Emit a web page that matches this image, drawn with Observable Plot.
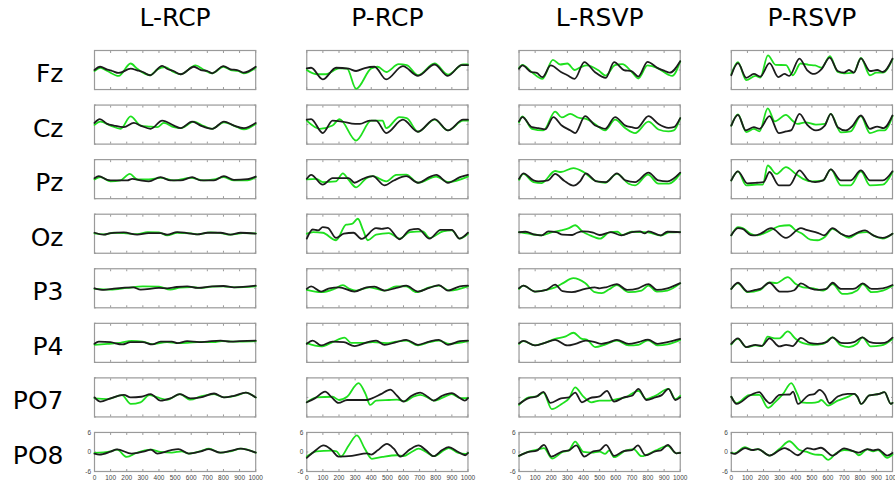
<!DOCTYPE html>
<html><head><meta charset="utf-8">
<script src="https://cdn.jsdelivr.net/npm/d3@7"></script>
<script src="https://cdn.jsdelivr.net/npm/@observablehq/plot@0.6"></script>
<style>body{margin:0;background:#fff;}</style>
</head><body><div id="chart"></div>
<script>
const conditions = ["L-RCP","P-RCP","L-RSVP","P-RSVP"];
const channels = ["Fz","Cz","Pz","Oz","P3","P4","PO7","PO8"];
const xTicks = [0,100,200,300,400,500,600,700,800,900,1000];
const yTicks = [-6,0,6];

// ---- L-RCP ----
const LRCP_Fz_k = [[0,0],[35,1.0],[80,0.1],[110,-0.3],[150,-0.9],[225,0.4],[265,-0.1],[300,-0.6],[345,-1.6],[420,1.3],[450,0.4],[490,-0.3],[535,-1.3],[617,1.0],[660,0],[700,-0.3],[730,-1.0],[800,1.2],[845,0.2],[885,0],[925,-0.8],[1000,1.0]];
const LRCP_Fz_g = [[0,-0.3],[37,0.7],[80,-0.3],[150,-1.8],[224,2.0],[265,0.4],[300,-0.8],[345,-1.6],[390,0.2],[440,0.9],[490,-0.6],[535,-1.3],[627,1.4],[680,0],[730,-1.0],[800,1.0],[845,0],[890,-0.3],[925,-1.0],[1000,0.7]];
const LRCP_Cz_k = [[0,0.5],[33,1.7],[79,0.2],[120,-0.3],[182,-0.8],[244,0.5],[286,-0.3],[348,-1.3],[420,1.2],[493,-0.3],[534,-1.1],[606,0.9],[658,-0.3],[730,-1.3],[803,0.9],[865,-0.3],[927,-1.1],[1000,0.5]];
const LRCP_Cz_g = [[0,-0.1],[37,0.9],[99,-0.3],[162,-1.3],[224,2.5],[286,-0.3],[337,-0.6],[389,-0.8],[430,0.5],[493,-0.8],[534,-1.1],[617,0.9],[679,-0.5],[730,-1.3],[803,0.7],[886,-0.8],[927,-1.5],[1000,0.2]];
const LRCP_Pz_k = [[0,0.3],[27,0.9],[79,-0.2],[120,-0.4],[203,-0.4],[234,0.1],[286,-0.4],[337,-0.7],[410,0.6],[472,-0.4],[534,-0.4],[606,0.6],[658,-0.4],[741,-0.4],[803,0.9],[865,-0.2],[948,0],[1000,0.8]];
const LRCP_Pz_g = [[0,-0.1],[37,0.6],[99,-0.7],[161,-0.4],[219,1.6],[265,-0.1],[337,-0.1],[410,0.4],[493,-0.4],[596,0.4],[679,-0.4],[741,-0.1],[803,0.6],[865,-0.4],[948,-0.4],[1000,0.6]];
const LRCP_Oz_k = [[0,0.3],[58,-0.3],[99,0.2],[182,0.4],[265,-0.3],[335,0.2],[410,0.2],[451,-0.3],[513,0.5],[575,0.2],[637,-0.2],[700,0.3],[782,0.3],[844,-0.3],[906,0.3],[1000,0]];
const LRCP_Oz_g = [[0,0.1],[58,-0.2],[120,0.3],[182,0.2],[265,-0.1],[330,0.5],[400,0.4],[451,-0.5],[513,0.3],[600,0.1],[637,-0.2],[720,0.4],[782,0.2],[844,-0.3],[920,0.2],[1000,0.1]];
const LRCP_P3_k = [[0,0],[58,-0.5],[120,-0.1],[240,0.3],[286,-0.4],[400,0.1],[450,0],[510,0.4],[575,0.6],[640,0.1],[730,0.6],[800,0.7],[865,0.3],[1000,0.8]];
const LRCP_P3_g = [[0,-0.2],[99,-0.4],[200,0.1],[300,0.6],[400,0.5],[470,-0.4],[530,0.2],[600,0.4],[650,0.1],[730,0.5],[800,0.6],[870,0.3],[1000,0.6]];
const LRCP_P4_k = [[0,-0.3],[27,0.4],[99,0.2],[172,-0.5],[224,0.2],[300,0.2],[358,-0.5],[410,0.4],[480,0.4],[516,-0.1],[575,0.5],[650,0.2],[700,0.4],[782,0.7],[844,0.4],[900,0.5],[1000,0.7]];
const LRCP_P4_g = [[0,-0.6],[80,-0.3],[160,0],[230,0.6],[300,0.4],[358,-0.4],[450,0.2],[516,-0.1],[575,0],[660,0.3],[740,0.2],[790,0.5],[860,0.4],[920,0.4],[1000,0.5]];
const LRCP_PO7_k = [[0,0],[37,-1.3],[99,-0.3],[182,0.8],[224,0],[290,0.2],[348,1.0],[410,-1.0],[470,-0.3],[530,1.0],[595,-0.3],[658,0],[742,1.2],[803,0],[865,0.5],[938,1.5],[1000,0]];
const LRCP_PO7_g = [[0,-0.3],[80,-0.5],[170,0.7],[225,-2.0],[285,-1.5],[340,0.7],[390,0],[450,-0.7],[530,1.0],[595,-0.7],[660,0.3],[742,1.0],[803,0],[890,0.7],[938,1.5],[1000,0]];
const LRCP_PO8_k = [[0,-0.5],[30,-0.8],[100,0.1],[140,0.8],[230,-0.5],[310,0.2],[350,0.7],[390,-0.5],[470,0.5],[520,0.9],[585,-0.5],[660,0.2],[710,0.9],[780,-0.2],[850,0.4],[905,1.0],[1000,-0.2]];
const LRCP_PO8_g = [[0,-0.3],[100,0.2],[140,0.7],[200,-1.5],[260,-0.3],[350,0.7],[410,0],[480,-0.2],[540,0.2],[585,-0.5],[660,0.3],[710,1.0],[780,-0.2],[850,0.3],[910,1.0],[1000,-0.2]];

// ---- P-RCP ----
const PRCP_Fz_k = [[0,0.5],[27,0.7],[99,-2.9],[182,0.7],[260,0.4],[306,-0.3],[360,0.6],[420,1.0],[493,-2.9],[596,1.2],[690,-1.8],[793,1.7],[875,-1.8],[960,1.5],[1000,1.5]];
const PRCP_Fz_g = [[0,0],[60,-1.3],[120,-1.3],[200,0.5],[250,0.4],[306,-5.8],[400,0.5],[440,1.0],[493,-0.6],[570,1.8],[620,1.5],[690,-1.6],[793,2.0],[876,-1.4],[970,1.7],[1000,1.7]];
const PRCP_Cz_k = [[0,1.5],[27,1.7],[99,-2.6],[160,1.2],[220,0.9],[300,0.2],[330,0.2],[390,1.2],[430,1.2],[493,-2.6],[596,1.5],[690,-2.2],[793,1.7],[876,-1.8],[970,1.5],[1000,1.5]];
const PRCP_Cz_g = [[0,1.2],[80,-1.3],[160,-0.3],[203,1.7],[306,-4.9],[400,1.2],[470,1.2],[493,-1.1],[575,2.3],[620,2.0],[690,-2.2],[793,1.5],[876,-1.8],[970,1.2],[1000,1.2]];
const PRCP_Pz_k = [[0,0.1],[27,1.3],[99,-1.7],[160,0.3],[260,0.3],[296,-1.1],[348,0.1],[410,0.9],[482,-1.9],[540,-0.4],[617,0.9],[690,-1.1],[760,0.6],[803,1.3],[876,-1.1],[950,0.6],[1000,1.3]];
const PRCP_Pz_g = [[0,-0.1],[60,0.1],[99,-0.9],[180,-0.7],[224,1.8],[255,0.1],[306,-2.5],[370,0.3],[410,0.9],[493,-0.7],[555,1.3],[617,1.4],[690,-1.1],[803,0.8],[876,-0.9],[1000,0.8]];
const PRCP_Oz_k = [[0,-1.5],[37,1.3],[70,1.0],[99,2.0],[130,1.8],[182,-1.3],[230,0],[290,0.3],[340,-1.6],[430,1.7],[465,1.5],[503,1.8],[576,-1.7],[640,1.2],[690,1.5],[762,-1.5],[830,1.2],[900,1.2],[948,-1.5],[1000,0.3]];
const PRCP_Oz_g = [[0,0],[40,0.5],[99,0.3],[182,-2.0],[244,2.8],[280,3.0],[317,4.6],[350,1.0],[379,-2.0],[430,-0.3],[510,0.2],[576,-1.5],[640,0.5],[720,0.7],[762,-1.3],[845,0.7],[900,1.0],[948,-1.5],[1000,0]];
const PRCP_P3_k = [[0,-0.2],[27,0.6],[89,-1.0],[140,0],[200,0.3],[296,-1.0],[370,0.3],[420,0.5],[482,-0.7],[555,0.1],[617,0.8],[690,-1.0],[760,0.1],[820,1.0],[876,-0.7],[950,0.6],[1000,0.8]];
const PRCP_P3_g = [[0,-0.5],[89,-1.2],[170,-0.2],[224,1.0],[265,-0.2],[306,-0.7],[390,0.3],[482,-0.7],[555,0.6],[617,0.6],[680,-1.2],[760,0.3],[820,0.8],[886,-0.7],[1000,0.6]];
const PRCP_P4_k = [[0,-0.3],[37,0.7],[89,-0.8],[160,0.4],[230,0.2],[296,-1.0],[390,0.4],[430,0.7],[482,-0.6],[555,0.2],[617,0.9],[690,-0.6],[760,0.4],[820,0.9],[876,-0.6],[950,0.5],[1000,0.7]];
const PRCP_P4_g = [[0,-0.1],[89,-1.1],[160,0.2],[234,1.6],[275,0],[340,0],[410,0.2],[493,-0.1],[555,0.4],[617,0.7],[690,-0.8],[760,0.2],[820,0.7],[886,-0.3],[1000,0.5]];
const PRCP_PO7_k = [[0,-1.5],[50,-0.3],[114,1.8],[155,0],[197,-1.7],[250,-0.8],[300,-0.8],[370,-0.8],[404,-0.3],[460,1.0],[518,2.4],[560,0.5],[600,-1.3],[650,0.5],[704,1.5],[750,0.2],[787,-1.0],[840,0.5],[900,1.3],[950,-0.2],[980,-1.0],[1000,-0.2]];
const PRCP_PO7_g = [[0,-1.5],[60,0],[160,0.2],[200,-0.8],[250,0.2],[321,4.4],[365,1.0],[393,-2.3],[430,-1.0],[510,-0.8],[560,-0.7],[610,-1.2],[660,0.2],[704,0.8],[760,-0.3],[787,-1.0],[860,0.3],[900,1.0],[950,-0.2],[1000,-0.2]];
const PRCP_PO8_k = [[0,-1.8],[50,0.3],[104,2.0],[150,0.8],[197,-1.4],[280,-1.2],[373,-0.4],[400,-0.8],[440,0.5],[497,2.5],[540,1.0],[580,-1.4],[640,0.8],[694,2.0],[740,0.5],[787,-1.3],[840,0.6],[880,1.5],[940,0],[983,-1.0],[1000,-0.3]];
const PRCP_PO8_g = [[0,-1.4],[60,0.2],[150,0.4],[185,0.2],[212,-1.4],[260,2.0],[311,5.1],[360,1.0],[404,-2.1],[470,-1.5],[560,-1.0],[600,-1.3],[650,0],[694,1.0],[740,0],[787,-1.3],[860,0.8],[880,1.2],[940,-0.3],[983,-0.6],[1000,-0.3]];

// ---- L-RSVP ----
const LRSVP_Fz_k = [[0,0.4],[21,1.4],[75,-0.6],[110,-0.9],[145,-2.2],[197,1.4],[260,-0.6],[300,-1.6],[345,-2.7],[405,2.4],[470,-0.6],[538,-2.4],[590,2.4],[650,0],[700,-0.4],[740,-2.0],[797,2.5],[860,0.6],[905,-0.3],[935,-0.8],[1000,2.7]];
const LRSVP_Fz_g = [[0,0.6],[21,1.6],[80,-0.7],[145,-2.7],[210,3.1],[255,1.7],[300,2.0],[345,0],[380,0.8],[420,1.4],[490,0],[538,-1.7],[595,1.5],[640,1.8],[700,-0.6],[740,-2.6],[797,1.4],[860,0.6],[925,-1.4],[950,-1.8],[1000,2.7]];
const LRSVP_Cz_k = [[0,1.0],[21,2.3],[80,-0.8],[120,-1.1],[161,-1.5],[213,2.3],[265,-0.3],[320,-1.8],[348,-2.6],[410,2.6],[470,-0.2],[500,-0.8],[534,-1.3],[596,2.3],[660,-0.3],[700,-0.8],[730,-1.1],[803,2.6],[865,0.2],[927,-1.0],[960,-0.8],[1000,2.0]];
const LRSVP_Cz_g = [[0,0.7],[21,2.5],[80,-1.3],[151,-1.8],[224,4.0],[265,2.2],[317,3.3],[370,2.1],[420,1.7],[470,0.2],[534,-1.8],[596,1.5],[660,-1.1],[720,-2.6],[803,0.9],[865,-1.5],[927,-2.1],[960,-1.8],[1000,2.0]];
const LRSVP_Pz_k = [[0,0.1],[27,1.8],[90,-0.4],[120,-0.7],[180,-0.4],[224,1.6],[280,-0.5],[337,-2.0],[380,-0.6],[414,1.8],[480,-0.7],[540,-0.9],[607,1.8],[660,-0.4],[720,-0.9],[803,2.0],[865,-0.4],[920,-0.7],[1000,2.0]];
const LRSVP_Pz_g = [[0,-0.2],[27,1.6],[90,-0.9],[140,-1.2],[224,2.5],[260,2.2],[337,3.4],[400,2.2],[470,-0.4],[534,-1.1],[607,1.6],[680,-1.4],[720,-1.9],[800,1.4],[865,-1.4],[930,-1.4],[1000,1.7]];
const LRSVP_Oz_k = [[0,0.5],[40,0.6],[100,-0.3],[140,-0.5],[182,0.7],[230,0.5],[270,-0.3],[330,-0.4],[360,0.3],[400,0.7],[460,0.3],[500,-0.4],[570,0.5],[635,-0.5],[700,0.5],[750,0.7],[780,0.1],[803,0.7],[880,-0.5],[920,0.6],[1000,0.5]];
const LRSVP_Oz_g = [[0,0.5],[60,0],[140,-0.5],[200,0.4],[260,1.0],[310,1.7],[348,2.6],[395,0.6],[440,-0.5],[503,-1.5],[560,0.4],[610,0.6],[640,-0.4],[700,0.6],[800,0.4],[880,-0.6],[930,0.4],[1000,0.5]];
const LRSVP_P3_k = [[0,0],[27,0.8],[99,-1.0],[170,-0.5],[224,1.1],[270,-0.9],[327,-1.2],[410,-0.2],[470,0.3],[500,0],[540,0.3],[607,1.3],[670,-0.5],[740,0],[803,1.3],[855,-0.5],[920,0],[1000,1.6]];
const LRSVP_P3_g = [[0,-0.2],[27,0.8],[99,-1.0],[170,-0.5],[224,0.3],[270,1.5],[337,3.1],[410,1.6],[470,-1.2],[513,-1.5],[560,-0.3],[607,1.0],[680,-1.2],[760,-0.7],[803,0.8],[855,-1.0],[920,-0.7],[1000,1.5]];
const LRSVP_P4_k = [[0,-0.1],[27,0.6],[99,-0.8],[160,0],[224,0.9],[300,-0.8],[350,-0.3],[414,0.7],[470,0.2],[510,-0.3],[560,0.2],[607,0.9],[680,-0.3],[740,0.2],[800,1.0],[860,-0.3],[920,0.2],[1000,1.2]];
const LRSVP_P4_g = [[0,-0.3],[27,0.5],[99,-0.8],[160,0],[224,1.2],[290,2.0],[337,3.1],[390,1.2],[420,1.0],[472,-1.3],[530,-0.6],[607,0.7],[680,-0.8],[740,-0.6],[800,0.8],[860,-0.8],[920,-0.5],[1000,0.9]];
const LRSVP_PO7_k = [[0,-2.0],[60,-0.2],[110,0.3],[151,1.7],[195,-1.7],[260,-0.3],[310,0],[348,1.5],[390,-1.5],[440,-0.2],[500,0.3],[545,2.0],[590,-1.3],[650,0],[700,0.5],[741,2.6],[790,-0.8],[845,0],[885,0.7],[927,2.6],[970,-0.8],[1000,0]];
const LRSVP_PO7_g = [[0,-2.3],[60,0],[110,0.3],[151,1.5],[203,-3.6],[265,-2.0],[310,-0.3],[348,3.1],[395,0.5],[450,-1.5],[500,-1.0],[545,-1.0],[600,-0.6],[660,0],[741,2.0],[790,-0.5],[845,0.5],[927,2.6],[970,-0.5],[1000,0.5]];
const LRSVP_PO8_k = [[0,-1.2],[60,0],[110,0.4],[155,2.2],[200,-1.4],[270,0.2],[310,0.5],[355,2.0],[405,-1.4],[460,0.2],[500,0.5],[540,2.2],[590,-1.2],[650,0.3],[700,0.6],[737,2.0],[785,-1.0],[845,0.2],[880,0.5],[923,2.2],[975,-0.4],[1000,-0.3]];
const LRSVP_PO8_g = [[0,-1.2],[60,0.1],[120,0.8],[155,1.2],[205,-2.0],[270,0],[310,0.5],[348,3.2],[400,0],[450,-0.2],[500,0.1],[534,-0.6],[560,0.5],[590,-1.6],[660,0.4],[710,0.9],[760,-1.3],[845,0.4],[923,1.9],[975,-0.4],[1000,-0.3]];

// ---- P-RSVP ----
const PRSVP_Fz_k = [[0,-1.6],[41,2.1],[93,-2.4],[140,-1.2],[180,-2.0],[237,2.1],[292,-2.2],[330,-1.2],[360,-1.8],[423,3.5],[470,0],[514,-1.2],[560,0.3],[610,3.8],[660,-0.3],[700,-0.8],[730,0],[760,-0.8],[804,3.6],[860,-0.3],[905,0],[940,-0.6],[1000,3.5]];
const PRSVP_Fz_g = [[0,-1.3],[41,2.4],[93,-3.1],[150,-1.8],[180,-2.3],[227,4.5],[275,1.6],[340,1.5],[381,-1.6],[430,2.0],[480,1.6],[520,1.4],[560,0.7],[612,4.3],[660,-0.6],[700,-1.0],[760,-0.8],[804,3.7],[860,-1.6],[900,-0.8],[940,-0.8],[1000,3.3]];
const PRSVP_Cz_k = [[0,-0.3],[41,3.0],[90,-1.8],[140,-0.8],[175,-1.3],[237,2.6],[295,-2.6],[340,-2.1],[370,-1.8],[423,3.3],[470,0],[525,-1.8],[580,-0.3],[617,3.3],[660,-0.8],[710,-1.8],[750,-0.5],[804,2.8],[860,-1.3],[905,-0.6],[945,-1.1],[1000,2.8]];
const PRSVP_Cz_g = [[0,-0.3],[41,3.1],[93,-2.3],[140,-1.3],[175,-2.1],[226,5.0],[270,1.0],[339,3.0],[380,1.2],[410,0.2],[460,0.7],[525,0],[580,0.2],[617,3.3],[680,-2.4],[740,-2.1],[804,2.6],[860,-2.6],[920,-1.8],[950,-1.8],[1000,2.6]];
const PRSVP_Pz_k = [[0,-0.4],[41,2.4],[100,-1.3],[160,-1.1],[200,-0.9],[237,2.2],[295,-1.9],[360,-1.9],[423,2.7],[480,-0.4],[520,-0.9],[570,-0.4],[617,3.0],[680,-0.4],[740,-0.4],[804,2.7],[860,-0.4],[940,-0.4],[1000,2.4]];
const PRSVP_Pz_g = [[0,-0.4],[41,2.4],[93,-1.9],[160,-1.7],[195,-1.7],[226,4.2],[280,1.6],[339,3.7],[400,1.6],[445,0.1],[500,-0.7],[570,-0.4],[617,3.0],[680,-1.9],[740,-1.9],[804,2.4],[860,-1.9],[940,-1.7],[1000,2.2]];
const PRSVP_Oz_k = [[0,-0.5],[41,1.7],[70,1.5],[120,-0.4],[150,-0.5],[180,0],[247,1.7],[339,-1.3],[432,1.7],[465,1.2],[540,0.2],[575,-0.5],[628,1.7],[680,0],[730,-0.8],[790,0.5],[830,1.0],[880,-0.5],[940,-1.3],[1000,0]];
const PRSVP_Oz_g = [[0,-0.5],[41,2.0],[70,1.7],[120,0],[160,-0.5],[220,0.5],[260,1.5],[298,2.3],[360,2.6],[400,1.0],[440,0],[490,-1.8],[535,-2.0],[580,-1.0],[628,1.5],[680,0],[730,-1.3],[790,0.3],[840,0.5],[900,-1.0],[940,-1.5],[1000,0]];
const PRSVP_P3_k = [[0,-0.2],[41,1.7],[100,-1.0],[150,-0.5],[180,-0.2],[237,1.7],[300,-1.0],[350,-1.0],[390,-0.6],[432,1.5],[490,0],[540,-0.5],[590,-0.2],[628,1.7],[680,-0.2],[740,-0.2],[770,0],[815,1.5],[870,-0.2],[940,0],[1000,1.0]];
const PRSVP_P3_g = [[0,-0.2],[41,1.5],[100,-1.2],[180,-0.5],[237,1.8],[280,1.6],[350,3.4],[400,1.3],[445,0.3],[510,0],[570,-0.7],[628,1.3],[690,-1.7],[720,-1.7],[780,-0.7],[815,1.3],[870,-1.2],[940,-0.7],[1000,0.8]];
const PRSVP_P4_k = [[0,-0.3],[41,1.4],[93,-1.3],[150,-0.6],[190,-0.9],[237,1.4],[298,-1.1],[340,-0.6],[380,-1.0],[432,1.5],[490,-0.1],[535,-0.3],[590,0.2],[628,1.7],[680,0],[720,-0.1],[760,0.2],[813,1.7],[860,0.2],[900,-0.1],[950,0],[1000,1.6]];
const PRSVP_P4_g = [[0,-0.5],[41,1.2],[93,-1.3],[150,-0.8],[190,-1.0],[226,1.9],[270,1.4],[298,1.4],[350,3.5],[400,1.2],[445,-0.1],[505,-0.6],[570,-0.3],[628,1.7],[680,-0.8],[730,-1.3],[780,-0.3],[813,1.7],[865,-1.1],[930,-0.8],[1000,1.2]];
const PRSVP_PO7_k = [[0,0.2],[33,-2.0],[115,0.6],[173,1.6],[214,-0.8],[239,-1.8],[300,0.8],[364,0.9],[383,1.8],[414,-2.0],[477,0.6],[518,1.1],[547,2.3],[580,0.9],[609,-1.8],[660,0.3],[722,1.1],[763,1.1],[784,0.1],[805,-2.0],[856,0.6],[918,1.1],[950,1.6],[990,-2.0],[1000,-1.7]];
const PRSVP_PO7_g = [[0,0.2],[33,-1.8],[110,0.7],[173,0.8],[228,-3.2],[270,-1.5],[320,1.0],[372,4.4],[410,1.0],[434,-1.5],[500,-1.7],[540,-1.4],[558,-0.8],[600,-2.5],[660,-1.0],[730,0.3],[763,1.1],[784,0],[805,-2.0],[856,0.6],[918,1.1],[950,1.6],[990,-2.0],[1000,-1.7]];
const PRSVP_PO8_k = [[0,-0.3],[20,-0.6],[85,1.2],[130,0.6],[165,0.9],[237,-1.1],[330,1.2],[360,0.6],[412,-1.0],[473,1.2],[510,0.8],[556,1.3],[628,-1.1],[700,1.1],[760,0.2],[790,-0.2],[844,0.9],[880,0.5],[910,0.8],[967,-1.1],[1000,-0.3]];
const PRSVP_PO8_g = [[0,-0.3],[20,-0.4],[85,1.5],[130,0.6],[165,0.9],[237,-1.1],[300,1.0],[360,3.3],[420,0.7],[470,0],[520,-0.8],[560,-0.9],[600,-2.4],[650,-0.4],[700,0.6],[760,0.2],[790,-1.0],[844,0.8],[880,0.2],[910,0.6],[967,-1.8],[1000,-0.8]];

// table built from the named arrays: [condition, channel, green, black]
const panels = [
  ["L-RCP","Fz",LRCP_Fz_g,LRCP_Fz_k],["L-RCP","Cz",LRCP_Cz_g,LRCP_Cz_k],["L-RCP","Pz",LRCP_Pz_g,LRCP_Pz_k],["L-RCP","Oz",LRCP_Oz_g,LRCP_Oz_k],
  ["L-RCP","P3",LRCP_P3_g,LRCP_P3_k],["L-RCP","P4",LRCP_P4_g,LRCP_P4_k],["L-RCP","PO7",LRCP_PO7_g,LRCP_PO7_k],["L-RCP","PO8",LRCP_PO8_g,LRCP_PO8_k],
  ["P-RCP","Fz",PRCP_Fz_g,PRCP_Fz_k],["P-RCP","Cz",PRCP_Cz_g,PRCP_Cz_k],["P-RCP","Pz",PRCP_Pz_g,PRCP_Pz_k],["P-RCP","Oz",PRCP_Oz_g,PRCP_Oz_k],
  ["P-RCP","P3",PRCP_P3_g,PRCP_P3_k],["P-RCP","P4",PRCP_P4_g,PRCP_P4_k],["P-RCP","PO7",PRCP_PO7_g,PRCP_PO7_k],["P-RCP","PO8",PRCP_PO8_g,PRCP_PO8_k],
  ["L-RSVP","Fz",LRSVP_Fz_g,LRSVP_Fz_k],["L-RSVP","Cz",LRSVP_Cz_g,LRSVP_Cz_k],["L-RSVP","Pz",LRSVP_Pz_g,LRSVP_Pz_k],["L-RSVP","Oz",LRSVP_Oz_g,LRSVP_Oz_k],
  ["L-RSVP","P3",LRSVP_P3_g,LRSVP_P3_k],["L-RSVP","P4",LRSVP_P4_g,LRSVP_P4_k],["L-RSVP","PO7",LRSVP_PO7_g,LRSVP_PO7_k],["L-RSVP","PO8",LRSVP_PO8_g,LRSVP_PO8_k],
  ["P-RSVP","Fz",PRSVP_Fz_g,PRSVP_Fz_k],["P-RSVP","Cz",PRSVP_Cz_g,PRSVP_Cz_k],["P-RSVP","Pz",PRSVP_Pz_g,PRSVP_Pz_k],["P-RSVP","Oz",PRSVP_Oz_g,PRSVP_Oz_k],
  ["P-RSVP","P3",PRSVP_P3_g,PRSVP_P3_k],["P-RSVP","P4",PRSVP_P4_g,PRSVP_P4_k],["P-RSVP","PO7",PRSVP_PO7_g,PRSVP_PO7_k],["P-RSVP","PO8",PRSVP_PO8_g,PRSVP_PO8_k]
];

const greenRows = panels.flatMap(([cond, ch, g]) => g.map(([t, v]) => ({cond, ch, t, v})));
const blackRows = panels.flatMap(([cond, ch, , k]) => k.map(([t, v]) => ({cond, ch, t, v})));

const frameColor = "#9a9a9a";
const chart = Plot.plot({
  width: 895,
  height: 486,
  marginLeft: 94,
  marginRight: 3,
  marginTop: 50,
  marginBottom: 15,
  style: {fontFamily: "DejaVu Sans", background: "#fff"},
  x: {domain: [0, 1000]},
  y: {domain: [-6, 6]},
  fx: {domain: conditions, paddingInner: 0.2406, paddingOuter: 0, round: false},
  fy: {domain: channels, paddingInner: 0.2844, paddingOuter: 0, round: false},
  marks: [
    Plot.frame({stroke: frameColor, strokeWidth: 1.2}),
    Plot.axisX({anchor: "bottom", ticks: xTicks, tickSize: -2, fill: "none", stroke: frameColor, label: null, facetAnchor: null}),
    Plot.axisX({anchor: "top", ticks: xTicks, tickSize: -2, fill: "none", stroke: frameColor, label: null, facetAnchor: null}),
    Plot.axisY({anchor: "left", ticks: yTicks, tickSize: -2, fill: "none", stroke: frameColor, label: null, facetAnchor: null}),
    Plot.axisY({anchor: "right", ticks: yTicks, tickSize: -2, fill: "none", stroke: frameColor, label: null, facetAnchor: null}),
    Plot.axisX({anchor: "bottom", ticks: xTicks, tickFormat: d => String(d), tickSize: 0, tickPadding: 3.5, fontSize: 6.5, fontFamily: "Liberation Sans", fill: "#444", label: null, facetAnchor: "bottom"}),
    Plot.axisY({anchor: "left", ticks: yTicks, tickFormat: d => String(d), tickSize: 0, tickPadding: 3.5, fontSize: 6.5, fontFamily: "Liberation Sans", fill: "#444", label: null, facetAnchor: "bottom"}),
    Plot.axisFx({anchor: "top", tickSize: 0, tickPadding: 25, fontSize: 25, fontFamily: "DejaVu Sans", fill: "#000", label: null}),
    Plot.axisFy({anchor: "left", tickSize: 0, tickPadding: 31, fontSize: 25, fontFamily: "DejaVu Sans", fill: "#000", label: null, dy: 4}),
    Plot.line(greenRows, {x: "t", y: "v", fx: "cond", fy: "ch", stroke: "#1ee01e", strokeWidth: 1.8, curve: "monotone-x"}),
    Plot.line(blackRows, {x: "t", y: "v", fx: "cond", fy: "ch", stroke: "#1c1c1c", strokeWidth: 1.8, curve: "monotone-x"})
  ]
});
document.getElementById("chart").appendChild(chart);
</script>
</body></html>
